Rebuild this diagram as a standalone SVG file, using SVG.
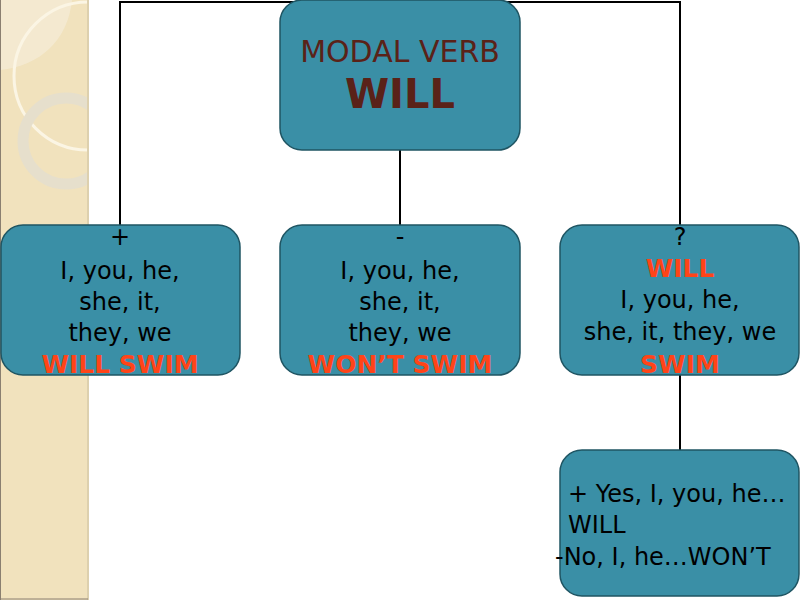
<svg xmlns="http://www.w3.org/2000/svg" width="800" height="600" viewBox="0 0 800 600">
<defs>
<clipPath id="strip"><rect x="0" y="0" width="88" height="600"/></clipPath>
</defs>
<style>
.box{fill:#3a8fa6;stroke:#1f5563;stroke-width:1.5}
.conn{stroke:#000;stroke-width:2;fill:none}
.t{font-family:"DejaVu Sans","Liberation Sans",sans-serif;text-anchor:middle;fill:#000;font-size:24px}
.r{fill:#ff4418;font-weight:bold;font-size:25px}
.h{font-family:"DejaVu Sans","Liberation Sans",sans-serif;text-anchor:middle;fill:#5a2218}
.b{font-family:"DejaVu Sans","Liberation Sans",sans-serif;fill:#000;font-size:24px}
</style>
<rect width="800" height="600" fill="#fff"/>
<g id="background">
<rect x="0" y="0" width="88" height="600" fill="#f1e2bd"/>
<g clip-path="url(#strip)">
<path d="M0 0 H72 C68 40 40 66 0 70 Z" fill="#f5ecd8" opacity="0.7"/>
<circle cx="88" cy="76" r="74" fill="none" stroke="#fbf5e4" stroke-width="3"/>
<circle cx="66" cy="141" r="43" fill="none" stroke="#e6dfcc" stroke-width="11"/>
</g>
<line x1="88" y1="0" x2="88" y2="600" stroke="#ddd0ae" stroke-width="2"/>
<line x1="0.5" y1="0" x2="0.5" y2="600" stroke="#8a7f70" stroke-width="1"/>
<line x1="0" y1="599" x2="88" y2="599" stroke="#8a7f70" stroke-width="1"/>
</g>
<g id="connectors">
<polyline class="conn" points="120,225 120,2 680,2 680,225"/>
<line class="conn" x1="400" y1="150" x2="400" y2="225"/>
<line class="conn" x1="680" y1="375" x2="680" y2="450"/>
</g>
<g id="top">
<rect class="box" x="280" y="0" width="240" height="150" rx="22"/>
<text class="h" x="400" y="62" font-size="30">MODAL VERB</text>
<text class="h" x="400" y="108" font-size="40" font-weight="bold">WILL</text>
</g>
<g id="positive">
<rect class="box" x="1" y="225" width="239" height="150" rx="22"/>
<text class="t" x="120" y="245">+</text>
<text class="t" x="120" y="279">I, you, he,</text>
<text class="t" x="120" y="310">she, it,</text>
<text class="t" x="120" y="341">they, we</text>
<text class="t r" x="120" y="373">WILL SWIM</text>
</g>
<g id="negative">
<rect class="box" x="280" y="225" width="240" height="150" rx="22"/>
<text class="t" x="400" y="245">-</text>
<text class="t" x="400" y="279">I, you, he,</text>
<text class="t" x="400" y="310">she, it,</text>
<text class="t" x="400" y="341">they, we</text>
<text class="t r" x="400" y="373">WON’T SWIM</text>
</g>
<g id="question">
<rect class="box" x="560" y="225" width="239" height="150" rx="22"/>
<text class="t" x="680" y="245">?</text>
<text class="t r" x="680" y="277">WILL</text>
<text class="t" x="680" y="308">I, you, he,</text>
<text class="t" x="680" y="340">she, it, they, we</text>
<text class="t r" x="680" y="373">SWIM</text>
</g>
<g id="answers">
<rect class="box" x="560" y="450" width="239" height="146" rx="22"/>
<text class="b" x="568" y="502">+ Yes, I, you, he…</text>
<text class="b" x="568" y="533">WILL</text>
<text class="b" x="555" y="565">-No, I, he…WON’T</text>
</g>
</svg>
